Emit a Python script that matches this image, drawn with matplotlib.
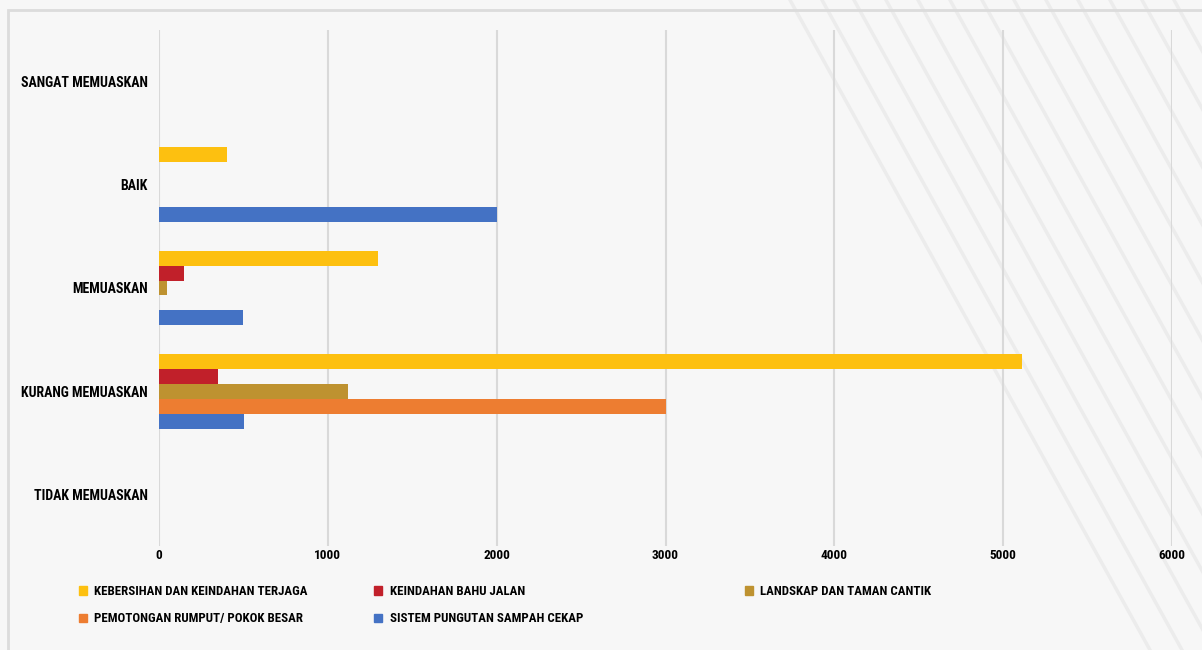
import matplotlib as mpl
mpl.use('agg')
import matplotlib.pyplot as plt
import numpy as np
from matplotlib.patches import Rectangle, Patch
from matplotlib.lines import Line2D

categories = ["SANGAT MEMUASKAN", "BAIK", "MEMUASKAN", "KURANG MEMUASKAN", "TIDAK MEMUASKAN"]
series = ["KEBERSIHAN DAN KEINDAHAN TERJAGA", "KEINDAHAN BAHU JALAN",
          "LANDSKAP DAN TAMAN CANTIK", "PEMOTONGAN RUMPUT/ POKOK BESAR",
          "SISTEM PUNGUTAN SAMPAH CEKAP"]
kebersihan = [0, 400, 1295, 5110, 0]
bahu_jalan = [0, 0, 148, 350, 0]
landskap = [0, 0, 45, 1120, 0]
pemotongan = [0, 0, 0, 3000, 0]
sampah = [0, 2000, 495, 505, 0]
values = [kebersihan, bahu_jalan, landskap, pemotongan, sampah]
colors = ["#FDC010", "#C1202A", "#BE9230", "#ED7D31", "#4472C4"]
xticks = [0, 1000, 2000, 3000, 4000, 5000, 6000]

plt.rcParams['font.family'] = ['Roboto Condensed', 'Roboto', 'DejaVu Sans']
plt.rcParams['font.weight'] = 'bold'

W, H = 1202, 650
fig = plt.figure(figsize=(W / 100, H / 100), dpi=100)
fig.patch.set_facecolor('#f7f7f7')

# decorative diagonal stripes
for x0 in np.arange(790, 1330, 32):
    fig.add_artist(Line2D([x0 / W, (x0 + 360) / W], [1, 0], transform=fig.transFigure,
                          color='#ececec', lw=2.5, zorder=0))
# outer frame
fig.add_artist(Rectangle((8 / W, -0.2), 1.2, 1.2 - 10 / H, transform=fig.transFigure,
                         fill=False, edgecolor='#dcdcdc', lw=2, zorder=0))

ax = fig.add_axes([159 / W, 1 - 546 / H, (1172 - 159) / W, (546 - 30) / H])
ax.set_facecolor('none')

y = np.arange(len(categories))
h = 0.145
for j, (vals, c) in enumerate(zip(values, colors)):
    ax.barh(y + (j - 2) * h, vals, height=h, color=c, zorder=3)

ax.set_xlim(0, 6000)
ax.set_ylim(len(categories) - 0.5, -0.5)
ax.set_xticks(xticks)
ax.set_xticklabels([str(t) for t in xticks])
ax.set_yticks(y)
ax.set_yticklabels(categories)
ax.grid(axis='x', color='#d9d9d9', lw=1.5, zorder=0)
for s in ax.spines.values():
    s.set_visible(False)
ax.tick_params(axis='x', length=0, pad=2, labelsize=9.5)
ax.tick_params(axis='y', length=0, pad=8, labelsize=10)

# legend: three columns placed like the reference
columns = [[0, 3], [1, 4], [2]]
col_x = [79, 374, 745]
for xs, idx in zip(col_x, columns):
    fig.legend([Patch(color=colors[i]) for i in idx], [series[i] for i in idx],
               loc='upper left', bbox_to_anchor=(xs / W, 1 - 585 / H), ncol=1,
               frameon=False, fontsize=9.3, handlelength=0.6, handleheight=0.6,
               handletextpad=0.6, labelspacing=1.1, borderpad=0, borderaxespad=0)

fig.savefig('out.png', dpi=100, facecolor=fig.get_facecolor())
